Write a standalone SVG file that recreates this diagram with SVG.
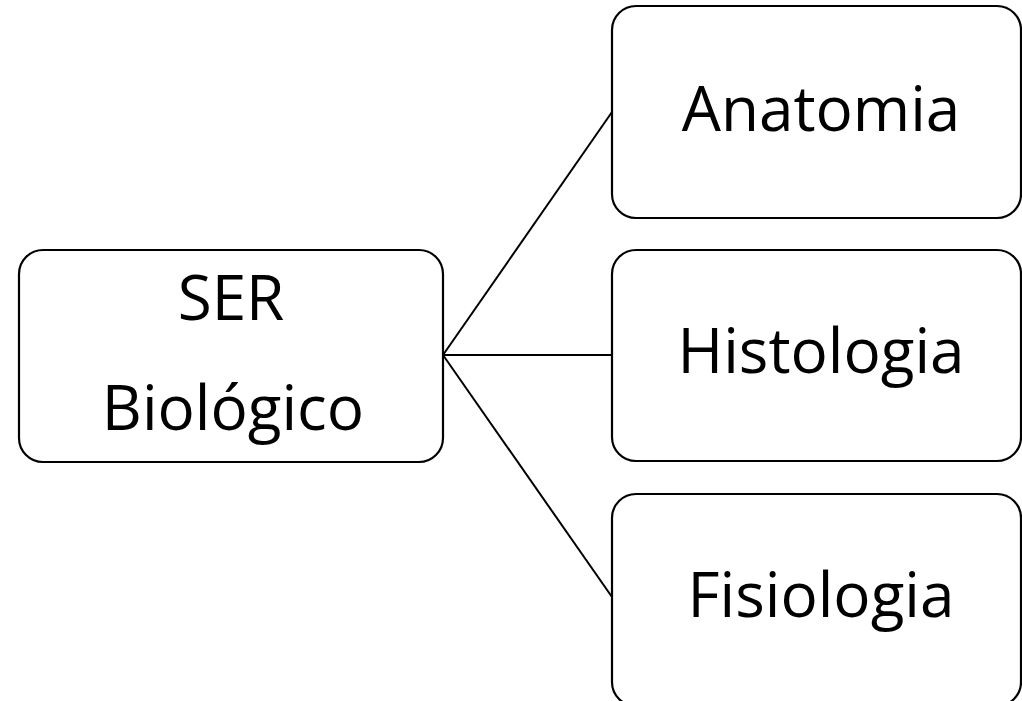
<svg xmlns="http://www.w3.org/2000/svg" width="1022" height="701" viewBox="0 0 1022 701">
<style>
.box{fill:#fff;stroke:#000;stroke-width:2.2}
.lbl{font-family:"Open Sans","Liberation Sans",sans-serif;font-size:62px;fill:#000;text-anchor:middle}
.con{stroke:#000;stroke-width:2;fill:none}
</style>
<rect width="1022" height="701" fill="#fff"/>
<g id="connectors">
<line class="con" x1="443" y1="355" x2="612" y2="112"/>
<line class="con" x1="443" y1="355" x2="612" y2="355"/>
<line class="con" x1="443" y1="355" x2="612" y2="597"/>
</g>
<g id="node-ser">
<rect class="box" x="19" y="250" width="424" height="212" rx="24"/>
<text class="lbl" x="231" y="320">SER</text>
<text class="lbl" x="233" y="430">Biológico</text>
</g>
<g id="node-anatomia">
<rect class="box" x="612" y="6" width="409" height="212" rx="24"/>
<text class="lbl" x="821" y="131">Anatomia</text>
</g>
<g id="node-histologia">
<rect class="box" x="612" y="250" width="409" height="211" rx="24"/>
<text class="lbl" x="821" y="373">Histologia</text>
</g>
<g id="node-fisiologia">
<rect class="box" x="612" y="494" width="409" height="212" rx="24"/>
<text class="lbl" x="821" y="617">Fisiologia</text>
</g>
</svg>
